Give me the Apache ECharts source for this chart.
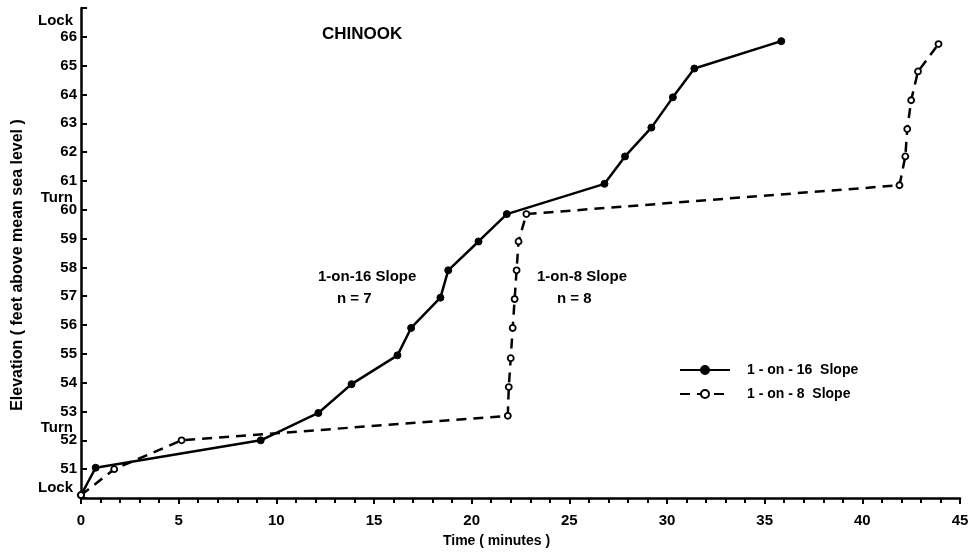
<!DOCTYPE html>
<html>
<head>
<meta charset="utf-8">
<script src="https://cdn.jsdelivr.net/npm/echarts@6/dist/echarts.min.js"></script>
<style>
html,body{margin:0;padding:0;background:#fff;}
#chart{width:973px;height:553px;}
</style>
</head>
<body>
<div id="chart"></div>
<script>
// ---- data ----
const slope16Name = '1-on-16 Slope';
const slope16Time = [0, 0.75, 9.2, 12.15, 13.85, 16.2, 16.9, 18.4, 18.8, 20.35, 21.8, 26.8, 27.85, 29.2, 30.3, 31.4, 35.85];
const slope16Elev = [50.1, 51.05, 52.0, 52.95, 53.95, 54.95, 55.9, 56.95, 57.9, 58.9, 59.85, 60.9, 61.85, 62.85, 63.9, 64.9, 65.85];

const slope8Name = '1-on-8 Slope';
const slope8Time = [0, 1.7, 5.15, 21.85, 21.9, 22.0, 22.1, 22.2, 22.3, 22.4, 22.8, 41.9, 42.2, 42.3, 42.5, 42.85, 43.9];
const slope8Elev = [50.1, 51.0, 52.0, 52.85, 53.85, 54.85, 55.9, 56.9, 57.9, 58.9, 59.85, 60.85, 61.85, 62.8, 63.8, 64.8, 65.75];

const xTickLabels = [0, 5, 10, 15, 20, 25, 30, 35, 40, 45];
const yTickLabels = [51, 52, 53, 54, 55, 56, 57, 58, 59, 60, 61, 62, 63, 64, 65, 66];
const markerValues = [50.35, 52.42, 60.42, 66.57];
const markerLabels = ['Lock', 'Turn', 'Turn', 'Lock'];

const titleText = 'CHINOOK';
const xTitle = 'Time ( minutes )';
const yTitle = 'Elevation ( feet above mean sea level )';
const note16 = ['1-on-16 Slope', 'n = 7'];
const note8 = ['1-on-8 Slope', 'n = 8'];

// ---- chart ----
const FONT = 'Liberation Sans';
const chart = echarts.init(document.getElementById('chart'), null, {renderer: 'canvas'});
const pairs = (xs, ys) => xs.map((x, i) => [x, ys[i]]);

const txt = (x, y, text, size) => ({
  type: 'text', left: x, top: y,
  style: {text: text, fill: '#000', font: 'bold ' + size + 'px "' + FONT + '"'}
});

chart.setOption({
  backgroundColor: '#fff',
  animation: false,
  textStyle: {fontFamily: FONT},
  grid: {left: 81, right: 13, top: 8, bottom: 51, containLabel: false},
  xAxis: {
    type: 'value', min: 0, max: 45, interval: 5,
    name: xTitle, nameLocation: 'middle', nameGap: 36,
    nameTextStyle: {color: '#000', fontWeight: 'bold', fontSize: 14, fontFamily: FONT, padding: [0, 48, 0, 0]},
    axisLine: {show: true, onZero: false, lineStyle: {color: '#000', width: 2.5}},
    axisTick: {show: true, inside: false, length: 6, lineStyle: {color: '#000', width: 2}},
    minorTick: {show: true, splitNumber: 5, length: 5, lineStyle: {color: '#000', width: 2}},
    axisLabel: {color: '#000', fontWeight: 'bold', fontSize: 15, fontFamily: FONT, margin: 15,
      formatter: v => xTickLabels.indexOf(v) >= 0 ? String(v) : ''},
    splitLine: {show: false}
  },
  yAxis: [{
    type: 'value', min: 50, max: 67, interval: 1,
    name: yTitle, nameLocation: 'middle', nameGap: 55,
    nameTextStyle: {color: '#000', fontWeight: 'bold', fontSize: 16, fontFamily: FONT, padding: [0, 24, 0, 0]},
    axisLine: {show: true, onZero: false, lineStyle: {color: '#000', width: 2.5}},
    axisTick: {show: true, inside: true, length: 6, lineStyle: {color: '#000', width: 2}},
    axisLabel: {color: '#000', fontWeight: 'bold', fontSize: 15, fontFamily: FONT, margin: 4,
      formatter: v => yTickLabels.indexOf(v) >= 0 ? String(v) : ''},
    splitLine: {show: false}
  }, {
    type: 'value', min: 50, max: 67, position: 'left', offset: 0,
    axisLine: {show: false}, axisTick: {show: false}, splitLine: {show: false},
    axisLabel: {
      color: '#000', fontWeight: 'bold', fontSize: 15, fontFamily: FONT, margin: 8,
      customValues: markerValues,
      formatter: v => {
        let best = 0;
        markerValues.forEach((m, i) => { if (Math.abs(m - v) < Math.abs(markerValues[best] - v)) best = i; });
        return markerLabels[best];
      }
    }
  }],
  legend: {
    orient: 'vertical', left: 679, top: 363, padding: 0, itemWidth: 50, itemHeight: 10, itemGap: 10,
    data: [slope16Name, slope8Name],
    textStyle: {color: '#000', fontWeight: 'bold', fontSize: 14, fontFamily: FONT, padding: [0, 0, 0, 12]},
    formatter: n => n.replace(/-/g, ' - ').replace(' Slope', '  Slope')
  },
  series: [{
    name: slope16Name, type: 'line', data: pairs(slope16Time, slope16Elev),
    symbol: 'circle', symbolSize: 7, showSymbol: true,
    lineStyle: {color: '#000', width: 2.5, type: 'solid'},
    itemStyle: {color: '#000', borderColor: '#000', borderWidth: 1}
  }, {
    name: slope8Name, type: 'line', data: pairs(slope8Time, slope8Elev),
    symbol: 'circle', symbolSize: 6, showSymbol: true,
    lineStyle: {color: '#000', width: 2.5, type: [10, 7]},
    itemStyle: {color: '#fff', borderColor: '#000', borderWidth: 1.8}
  }],
  graphic: [
    txt(322, 26, titleText, 17),
    txt(318, 269, note16[0], 15),
    txt(337, 291, note16[1], 15),
    txt(537, 269, note8[0], 15),
    txt(557, 291, note8[1], 15)
  ]
});
</script>
</body>
</html>
